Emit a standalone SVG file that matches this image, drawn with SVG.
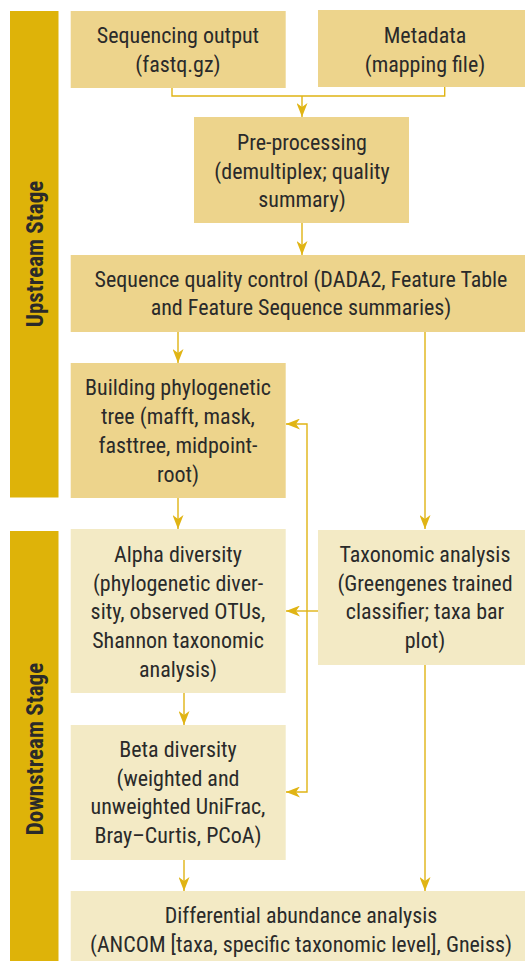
<svg xmlns="http://www.w3.org/2000/svg" width="525" height="961" viewBox="0 0 525 961">
<defs>
<style>
.bar{fill:#DEB309}
.up{fill:#EDD48C}
.dn{fill:#F3EAC5}
.t{font-family:"Liberation Sans Narrow","Roboto Condensed","DejaVu Sans Condensed","Liberation Sans",sans-serif;font-size:22px;fill:#2a2a2a;text-anchor:middle}
.st{font-family:"Liberation Sans Narrow","Roboto Condensed","DejaVu Sans Condensed","Liberation Sans",sans-serif;font-size:23px;font-weight:bold;fill:#2a2a2a;text-anchor:middle}
.c{fill:none;stroke:#E0B414;stroke-width:1.4}
</style>
<marker id="ah" markerUnits="userSpaceOnUse" viewBox="0 0 14 11" markerWidth="14" markerHeight="11" refX="14" refY="5.5" orient="auto">
<path d="M0,0 L14,5.5 L0,11 L4,5.5 z" fill="#E0B414"/>
</marker>
</defs>
<rect width="525" height="961" fill="#fff"/>

<g id="upstream-stage">
<rect class="bar" x="10" y="11" width="48.5" height="486.5"/>
<text class="st" transform="translate(42.5,254) rotate(-90)">Upstream Stage</text>
</g>
<g id="downstream-stage">
<rect class="bar" x="10" y="531" width="48.5" height="430"/>
<text class="st" transform="translate(42.5,749) rotate(-90)">Downstream Stage</text>
</g>

<g id="sequencing-output">
<rect class="up" x="70.7" y="11" width="215" height="77"/>
<text class="t" x="178" y="43">Sequencing output</text>
<text class="t" x="178" y="72">(fastq.gz)</text>
</g>
<g id="metadata">
<rect class="up" x="318" y="10" width="207" height="77"/>
<text class="t" x="425" y="43">Metadata</text>
<text class="t" x="425" y="72">(mapping file)</text>
</g>
<g id="pre-processing">
<rect class="up" x="194" y="117" width="215" height="106"/>
<text class="t" x="302" y="150">Pre-processing</text>
<text class="t" x="302" y="179">(demultiplex; quality</text>
<text class="t" x="302" y="207">summary)</text>
</g>
<g id="sequence-qc">
<rect class="up" x="70.7" y="255" width="454.3" height="77"/>
<text class="t" x="301" y="287">Sequence quality control (DADA2, Feature Table</text>
<text class="t" x="301" y="315">and Feature Sequence summaries)</text>
</g>
<g id="phylogenetic-tree">
<rect class="up" x="70.7" y="363" width="215" height="135"/>
<text class="t" x="178" y="395">Building phylogenetic</text>
<text class="t" x="178" y="424">tree (mafft, mask,</text>
<text class="t" x="178" y="453">fasttree, midpoint-</text>
<text class="t" x="178" y="482">root)</text>
</g>
<g id="alpha-diversity">
<rect class="dn" x="70.7" y="529" width="215" height="164"/>
<text class="t" x="178" y="562">Alpha diversity</text>
<text class="t" x="178" y="591">(phylogenetic diver-</text>
<text class="t" x="178" y="619">sity, observed OTUs,</text>
<text class="t" x="178" y="648">Shannon taxonomic</text>
<text class="t" x="178" y="677">analysis)</text>
</g>
<g id="taxonomic-analysis">
<rect class="dn" x="318" y="530" width="207" height="135"/>
<text class="t" x="425" y="562">Taxonomic analysis</text>
<text class="t" x="425" y="591">(Greengenes trained</text>
<text class="t" x="425" y="619">classifier; taxa bar</text>
<text class="t" x="425" y="648">plot)</text>
</g>
<g id="beta-diversity">
<rect class="dn" x="70.7" y="725" width="215" height="135"/>
<text class="t" x="178" y="757">Beta diversity</text>
<text class="t" x="178" y="786">(weighted and</text>
<text class="t" x="178" y="814">unweighted UniFrac,</text>
<text class="t" x="178" y="843">Bray–Curtis, PCoA)</text>
</g>
<g id="differential-abundance">
<rect class="dn" x="70.7" y="891" width="454.3" height="70"/>
<text class="t" x="301" y="923">Differential abundance analysis</text>
<text class="t" x="301" y="952">(ANCOM [taxa, specific taxonomic level], Gneiss)</text>
</g>

<g id="connectors">
<path class="c" d="M172,88 V96 H444.7 V87"/>
<path class="c" d="M302,96 V117" marker-end="url(#ah)"/>
<path class="c" d="M302,223 V255" marker-end="url(#ah)"/>
<path class="c" d="M178,332 V363" marker-end="url(#ah)"/>
<path class="c" d="M425,332 V529" marker-end="url(#ah)"/>
<path class="c" d="M178,498 V529" marker-end="url(#ah)"/>
<path class="c" d="M184,693 V725" marker-end="url(#ah)"/>
<path class="c" d="M184,860 V891" marker-end="url(#ah)"/>
<path class="c" d="M425,665 V891" marker-end="url(#ah)"/>
<path class="c" d="M318,611 H286" marker-end="url(#ah)"/>
<path class="c" d="M307,611 V424 H286" marker-end="url(#ah)"/>
<path class="c" d="M307,611 V792 H286" marker-end="url(#ah)"/>
</g>
</svg>
